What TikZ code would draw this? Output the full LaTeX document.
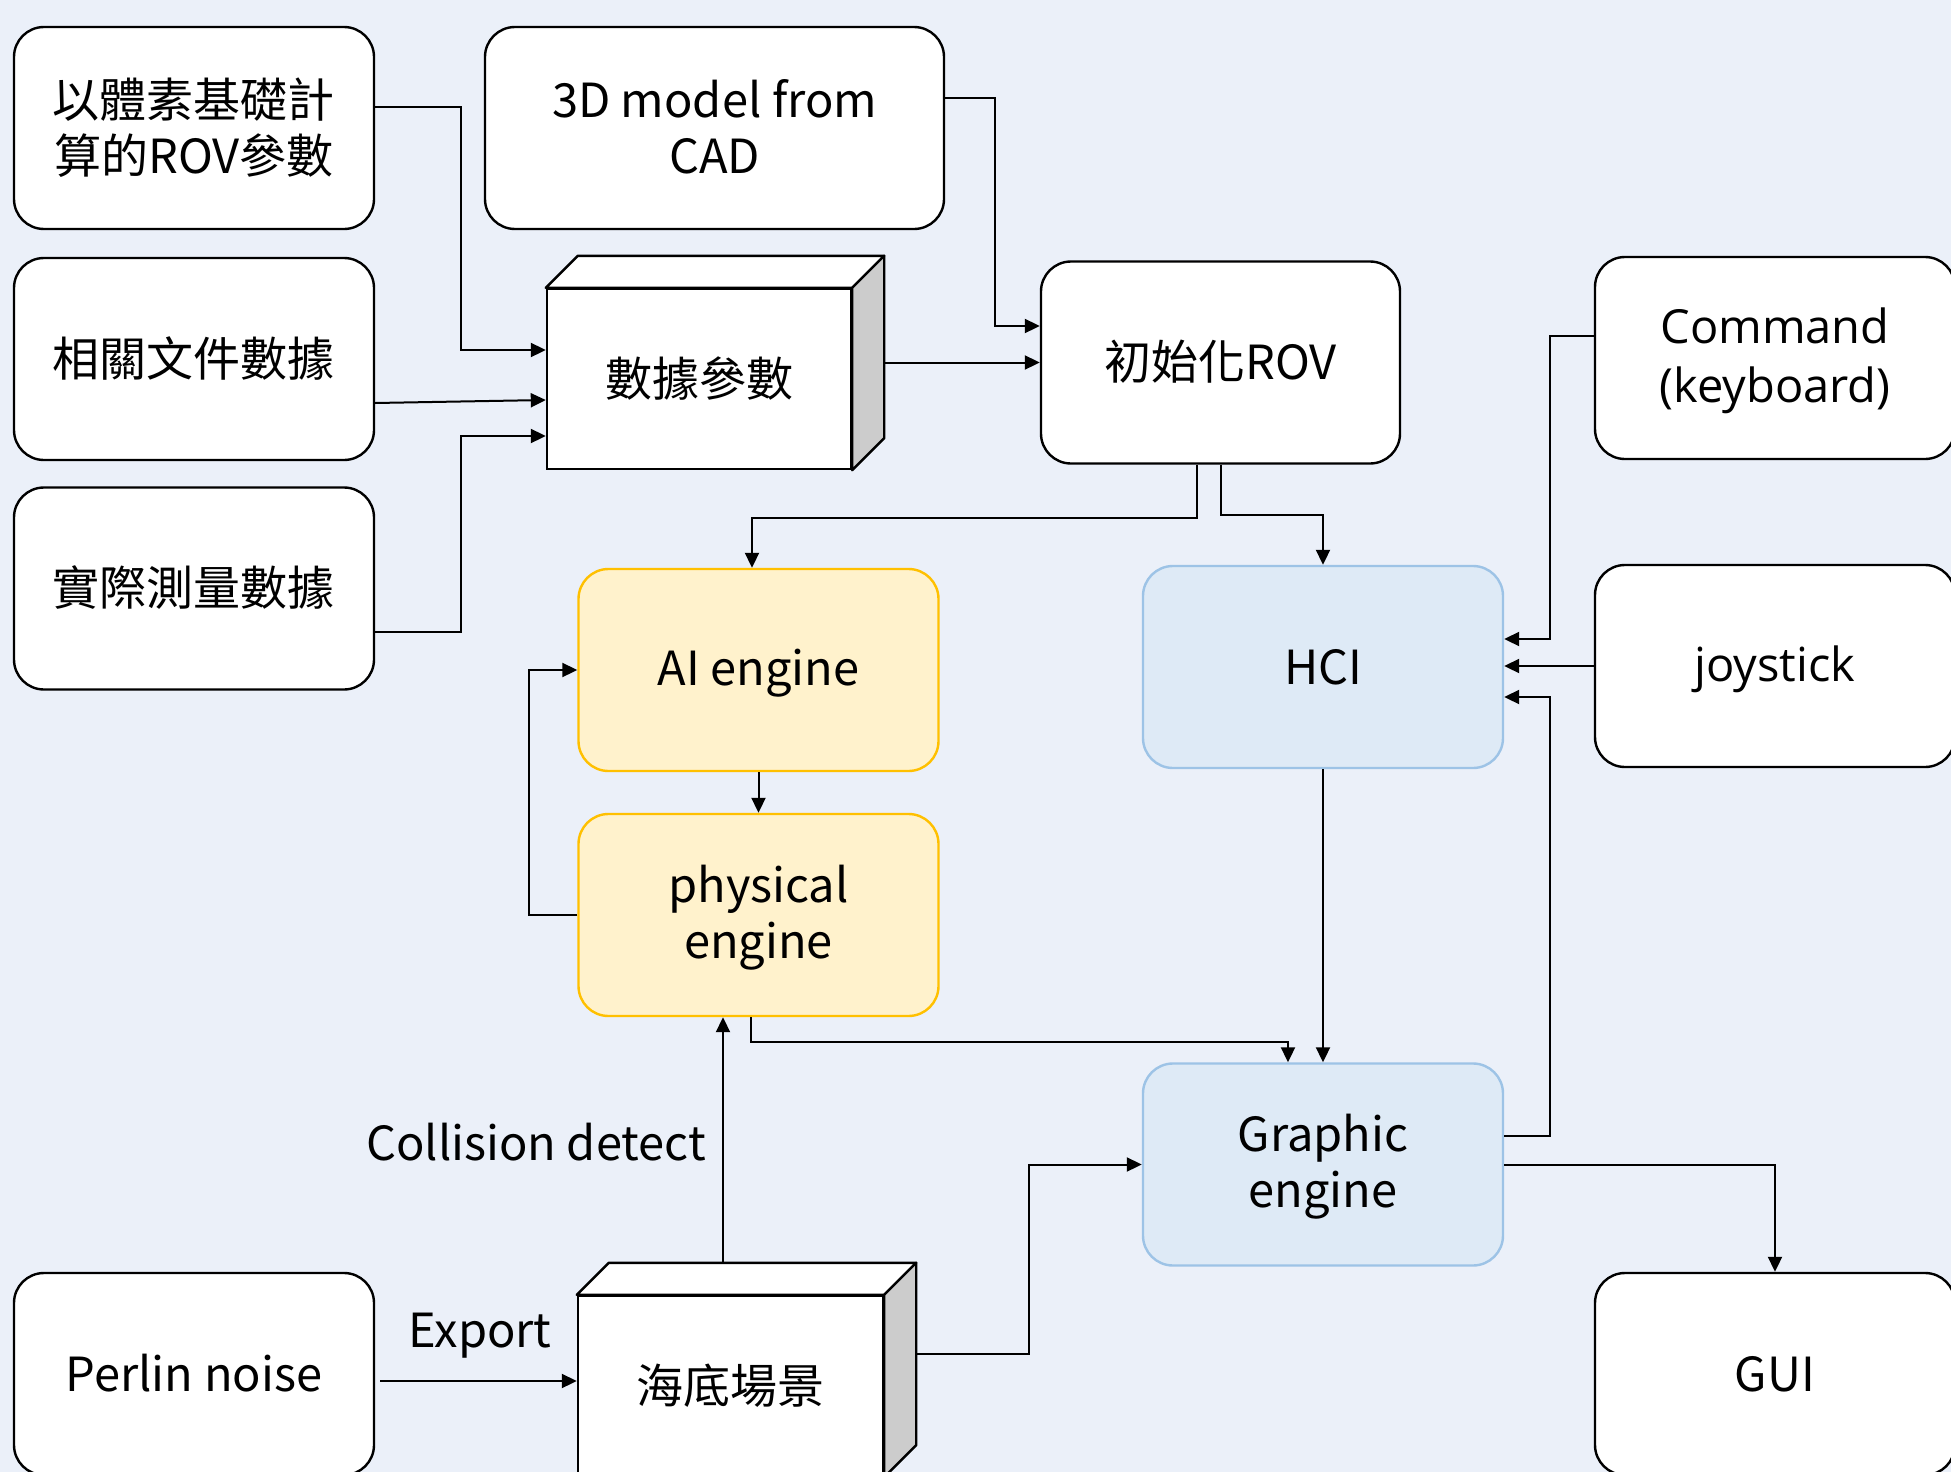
\documentclass[tikz,border=0pt]{standalone}
\usepackage{fontspec}
\setmainfont{Noto Sans CJK TC}
\newfontfamily\osans{Open Sans}
\usetikzlibrary{calc,arrows.meta}
\definecolor{bgc}{HTML}{EBF0F9}
\definecolor{ylwfill}{HTML}{FFF2CC}
\definecolor{ylwline}{HTML}{FFC000}
\definecolor{bluefill}{HTML}{DEEAF6}
\definecolor{blueline}{HTML}{9DC3E6}
\definecolor{sidegray}{HTML}{CCCCCC}
\newcommand\ls{\rule[-4pt]{0pt}{25pt}}
\tikzset{
  box/.style={draw=black, line width=1.2pt, fill=white, rounded corners=15pt,
    minimum width=180pt, minimum height=101pt, inner sep=0pt, align=center,
    font=\fontsize{23.5pt}{28pt}\selectfont},
  ybox/.style={box, draw=ylwline, fill=ylwfill},
  bbox/.style={box, draw=blueline, fill=bluefill},
  cubefront/.style={draw=black, line width=1.2pt, fill=white, rounded corners=0pt,
    minimum width=152.5pt, minimum height=90pt, inner sep=0pt, align=center,
    font=\fontsize{23.5pt}{28pt}\selectfont},
  cubeface/.style={draw=black, line width=1.2pt, line join=round},
  conn/.style={draw=black, line width=1pt, -{Triangle[length=7.5pt,width=7pt]}},
  lbl/.style={inner sep=0pt, font=\fontsize{23.5pt}{28pt}\selectfont}
}
\begin{document}
\begin{tikzpicture}[x=0.5pt,y=-0.5pt]
\fill[bgc] (0,0) rectangle (1951,1472);
\useasboundingbox (0,0) rectangle (1951,1472);

% nodes
\node[box] (vox) at (194,128) {\ls{}以體素基礎計\\\ls{}算的ROV參數};
\node[box, minimum width=229.5pt] (cad) at (714.5,128) {\ls{}3D model from\\\ls{}CAD};
\node[box] (docs) at (194,359) {\ls{}相關文件數據};
\node[box] (meas) at (194,588.5) {\ls{}實際測量數據};
\node[cubefront, minimum width=152pt] (data) at (699,379) {\ls{}數據參數};
\node[box, minimum width=179.5pt] (init) at (1220.5,362.5) {\ls{}初始化ROV};
\node[box, font=\osans\fontsize{23.5pt}{29.5pt}\selectfont] (cmd) at (1775,358) {\ls{}Command\\\ls{}(keyboard)};
\node[box, font=\osans\fontsize{23.5pt}{29.5pt}\selectfont] (joy) at (1775,666) {\ls{}joystick};
\node[ybox] (ai) at (758.5,670) {\ls{}AI engine};
\node[ybox] (phys) at (758.5,915) {\ls{}physical\\\ls{}engine};
\node[bbox] (hci) at (1323,667) {\ls{}HCI};
\node[bbox] (graphic) at (1323,1164.5) {\ls{}Graphic\\\ls{}engine};
\node[box] (perlin) at (194,1374) {\ls{}Perlin noise};
\node[cubefront] (seabed) at (730.5,1386) {\ls{}海底場景};
\node[box] (gui) at (1775,1374) {\ls{}GUI};

% cube faces
\foreach \c in {data,seabed}{
  \draw[cubeface, fill=white] (\c.north west) -- ($(\c.north west)+(32,-32)$)
     -- ($(\c.north east)+(32,-32)$) -- (\c.north east) -- cycle;
  \draw[cubeface, fill=sidegray] (\c.north east) -- ($(\c.north east)+(32,-32)$)
     -- ($(\c.south east)+(32,-32)$) -- (\c.south east) -- cycle;
}
\coordinate (dataR) at ($(data.east)+(32,-16.5)$);
\coordinate (seabedTop) at ($(seabed.north)+(-7.5,-32)$);
\coordinate (seabedR) at ($(seabed.east)+(32,-32)$);

% labels
\node[lbl] (coll) at (536,1143) {\ls{}Collision detect};
\node[lbl] (export) at (480,1332) {\ls{}Export};

% connectors
\draw[conn] ($(vox.east)+(0,-21)$) -- ++(86,0) |- ($(data.west)+(0,-29)$);
\draw[conn] ($(docs.east)+(0,44)$) -- ($(data.west)+(0,21)$);
\draw[conn] ($(meas.east)+(0,43.5)$) -- ++(86,0) |- ($(data.west)+(0,57)$);
\draw[conn] ($(cad.east)+(0,-30)$) -- ++(50,0) |- ($(init.west)+(0,-36.5)$);
\draw[conn] (dataR) -- (dataR -| init.west);
\draw[conn] ($(init.south)+(-23.5,0)$) -- ++(0,53) -| ($(ai.north)+(-6.5,0)$);
\draw[conn] ($(init.south)+(0.5,0)$) -- ++(0,50) -| (hci.north);
\draw[conn] ($(cmd.west)+(0,-22)$) -| ($(hci.east)+(46,-28)$) -- ($(hci.east)+(0,-28)$);
\draw[conn] (joy.west) -- (joy.west -| hci.east);
\draw[conn] ($(graphic.east)+(0,-28.5)$) -| ($(hci.east)+(46,30)$) -- ($(hci.east)+(0,30)$);
\draw[conn] (hci.south) -- (graphic.north);
\draw[conn] (ai.south) -- (phys.north);
\draw[conn] (phys.west) -- ++(-48,0) |- (ai.west);
\draw[conn] ($(phys.south)+(-7.5,0)$) -- ++(0,25) -| ($(graphic.north)+(-35,0)$);
\draw[conn] (seabedTop) -- (seabedTop |- phys.south);
\draw[conn] ($(perlin.east)+(5,7)$) -- ($(seabed.west)+(0,-5)$);
\draw[conn] (seabedR) -- ++(113,0) |- (graphic.west);
\draw[conn] (graphic.east) -| (gui.north);
\end{tikzpicture}
\end{document}
